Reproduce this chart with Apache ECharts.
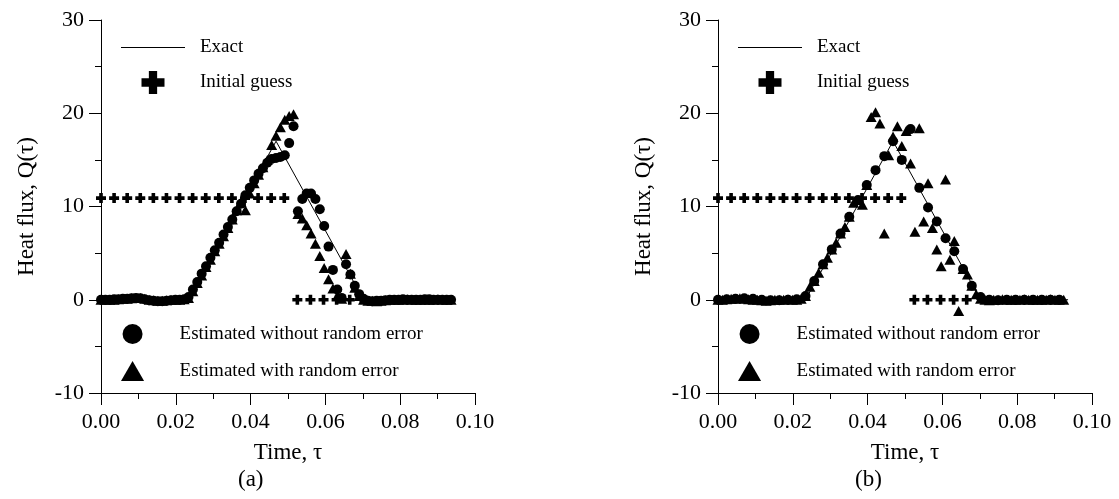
<!DOCTYPE html>
<html>
<head>
<meta charset="utf-8">
<script src="https://cdn.jsdelivr.net/npm/echarts@6/dist/echarts.min.js"></script>
<style>
  html, body { margin: 0; padding: 0; background: #fff; }
  #main { width: 1119px; height: 499px; }
</style>
</head>
<body>
<div id="main"></div>
<script>
// sample times (every estimate is on this grid)
const tFine = [0, 0.00117, 0.00234, 0.00351, 0.00468, 0.00585, 0.00702, 0.00819, 0.00936, 0.01053,
  0.0117, 0.01287, 0.01404, 0.01521, 0.01638, 0.01755, 0.01872, 0.01989, 0.02106, 0.02223,
  0.0234, 0.02457, 0.02574, 0.02691, 0.02808, 0.02925, 0.03042, 0.03159, 0.03276, 0.03393,
  0.0351, 0.03627, 0.03744, 0.03861, 0.03978, 0.04095, 0.04212, 0.04329, 0.04446, 0.04563,
  0.0468, 0.04797, 0.04914, 0.05031, 0.05148, 0.05265, 0.05382, 0.05499, 0.05616, 0.05733,
  0.0585, 0.05967, 0.06084, 0.06201, 0.06318, 0.06435, 0.06552, 0.06669, 0.06786, 0.06903,
  0.0702, 0.07137, 0.07254, 0.07371, 0.07488, 0.07605, 0.07722, 0.07839, 0.07956, 0.08073,
  0.0819, 0.08307, 0.08424, 0.08541, 0.08658, 0.08775, 0.08892, 0.09009, 0.09126, 0.09243, 0.0936];
const tCoarse = [0, 0.00234, 0.00468, 0.00702, 0.00936, 0.0117, 0.01404, 0.01638, 0.01872, 0.02106,
  0.0234, 0.02574, 0.02808, 0.03042, 0.03276, 0.0351, 0.03744, 0.03978, 0.04212, 0.04446,
  0.0468, 0.04914, 0.05148, 0.05382, 0.05616, 0.0585, 0.06084, 0.06318, 0.06552, 0.06786,
  0.0702, 0.07254, 0.07488, 0.07722, 0.07956, 0.0819, 0.08424, 0.08658, 0.08892, 0.09126];

const exactTime = [0, 0.0234, 0.0468, 0.0702, 0.0936];
const exactQ = [0, 0, 17, 0, 0];

const guessTime = [0, 0.0035, 0.007, 0.0105, 0.014, 0.0175, 0.021, 0.0245, 0.028, 0.0315,
  0.035, 0.0385, 0.042, 0.0455, 0.049, 0.0525, 0.056, 0.0595, 0.063, 0.0665];
const guessQ = [10.9, 10.9, 10.9, 10.9, 10.9, 10.9, 10.9, 10.9, 10.9, 10.9,
  10.9, 10.9, 10.9, 10.9, 10.9, 0, 0, 0, 0, 0];

// panel (a)
const aNoError = [0, 0, 0, 0.05, 0.05, 0.1, 0.1, 0.15, 0.2, 0.15, 0.05, -0.05, -0.1, -0.15, -0.15, -0.1, -0.05, 0, 0, 0.05,
  0.3, 1.1, 1.9, 2.8, 3.6, 4.5, 5.3, 6.1, 7.0, 7.8, 8.6, 9.5, 10.3, 11.2, 12.0, 12.8, 13.5, 14.1, 14.7, 15.1,
  15.2, 15.3, 15.5, 16.8, 18.6, 9.5, 10.8, 11.4, 11.4, 10.8, 9.7, 7.9, 5.7, 3.2, 1.1, 0.2, 3.8, 2.7, 1.5, 0.6,
  0.1, -0.1, -0.15, -0.1, -0.1, -0.05, 0, 0, 0, 0.05, 0, 0, 0, 0, 0.05, 0.05, 0, 0, 0, 0, 0];
const aWithError = [0, 0, 0, 0, 0.05, 0.1, 0.1, 0.15, 0.2, 0.2, 0.1, 0, -0.05, -0.1, -0.1, -0.05, 0, 0, 0, 0.05,
  0.2, 0.9, 1.8, 2.6, 3.5, 4.3, 5.2, 6.0, 6.8, 7.7, 8.6, 9.6, 10.5, 9.6, 11.4, 12.5, 13.4, 14.2, 15.0, 16.6,
  17.6, 18.5, 19.3, 19.7, 19.9, 9.2, 8.7, 8.0, 7.1, 6.0, 4.7, 3.4, 2.2, 1.2, 0.4, 0.1, 4.9, 2.8, 1.3, 0.4,
  0, -0.1, -0.1, -0.15, -0.1, -0.05, 0, 0, 0, 0, 0.05, 0, 0, 0, 0, 0, 0, 0.05, 0, 0, 0];

// panel (b)
const bNoError = [0, 0.05, 0.1, 0.15, 0.1, 0, -0.05, -0.05, 0, 0.05,
  0.4, 2.0, 3.8, 5.4, 7.1, 8.9, 10.7, 12.3, 13.9, 15.4,
  17.0, 15.0, 18.3, 12.0, 9.9, 8.4, 6.6, 5.2, 3.3, 1.5,
  0.3, 0, -0.05, 0, 0, 0, 0, 0, 0, 0];
const bWithError = [0, 0, 0.05, 0.1, 0.1, 0.15, 0.1, 0.05, 0, 0, -0.05, -0.1, -0.05, 0, 0, 0, 0.05, 0, 0, 0.1,
  0.4, 1.4, 2.0, 2.9, 3.8, 4.5, 5.4, 6.1, 7.1, 7.8, 8.9, 10.4, 10.7, 10.2, 12.3, 19.6, 20.1, 18.9, 7.1, 15.5,
  17.5, 18.6, 16.5, 18.1, 14.6, 7.3, 18.4, 8.4, 12.5, 7.7, 5.4, 3.6, 12.9, 4.3, 6.3, -1.2, 3.3, 2.7, 1.5, 0.6,
  0.1, 0, -0.05, 0, 0, 0.05, 0, 0, 0, 0, 0.05, 0, 0, 0, 0, 0, 0.05, 0, 0, 0];

const serif = 'Liberation Serif';
const plusPath = 'path://M3.2,0H6.8V3.2H10V6.8H6.8V10H3.2V6.8H0V3.2H3.2Z';
const triPath = 'path://M5,0L10,8.66L0,8.66Z';
const linePath = 'path://M0,0H64V1H0Z';
const ink = {color: '#000', opacity: 1};

function pairs(t, q) {
  return q.map((v, i) => [t[i], v]);
}

function xAxisFor(i) {
  return {
    gridIndex: i, type: 'value', min: 0, max: 0.1, interval: 0.02,
    axisLine: {show: true, onZero: false, lineStyle: {color: '#000', width: 1}},
    axisTick: {show: true, length: 12, lineStyle: {color: '#000'}},
    minorTick: {show: true, splitNumber: 2, length: 6, lineStyle: {color: '#000'}},
    splitLine: {show: false},
    axisLabel: {formatter: v => v.toFixed(2), margin: 18, fontSize: 22, fontFamily: serif, color: '#000'},
    name: 'Time, τ', nameLocation: 'middle', nameGap: 48,
    nameTextStyle: {fontSize: 23, fontFamily: serif, color: '#000'}
  };
}

function yAxisFor(i) {
  return {
    gridIndex: i, type: 'value', min: -10, max: 30, interval: 10,
    axisLine: {show: true, onZero: false, lineStyle: {color: '#000', width: 1}},
    axisTick: {show: true, length: 12, lineStyle: {color: '#000'}},
    minorTick: {show: true, splitNumber: 2, length: 6, lineStyle: {color: '#000'}},
    splitLine: {show: false},
    axisLabel: {margin: 17, fontSize: 22, fontFamily: serif, color: '#000'},
    name: 'Heat flux, Q(τ)', nameLocation: 'middle', nameGap: 63,
    nameTextStyle: {fontSize: 23, fontFamily: serif, color: '#000'}
  };
}

function seriesFor(i, circles, circleTimes, triangles) {
  return [
    {
      name: 'Estimated with random error', type: 'scatter', xAxisIndex: i, yAxisIndex: i,
      symbol: triPath, symbolSize: [11, 10], itemStyle: ink,
      data: pairs(tFine, triangles), z: 2
    },
    {
      name: 'Initial guess', type: 'scatter', xAxisIndex: i, yAxisIndex: i,
      symbol: plusPath, symbolSize: 10, itemStyle: ink,
      data: pairs(guessTime, guessQ), z: 3
    },
    {
      name: 'Estimated without random error', type: 'scatter', xAxisIndex: i, yAxisIndex: i,
      symbol: 'circle', symbolSize: 10, itemStyle: ink,
      data: pairs(circleTimes, circles), z: 4
    },
    {
      name: 'Exact', type: 'line', xAxisIndex: i, yAxisIndex: i,
      symbol: 'none', showSymbol: false, lineStyle: {color: '#000', width: 1}, itemStyle: ink,
      data: pairs(exactTime, exactQ), z: 5
    }
  ];
}

const legendText = {fontFamily: serif, fontSize: 19, color: '#000', padding: [0, 0, 0, 10]};

function legendsFor(left) {
  return [
    {
      orient: 'vertical', left: left, top: 33, itemWidth: 64, itemHeight: 23, itemGap: 14,
      selectedMode: false, textStyle: legendText, itemStyle: {opacity: 1},
      data: [{name: 'Exact', icon: linePath}, {name: 'Initial guess', icon: plusPath}]
    },
    {
      orient: 'vertical', left: left, top: 319, itemWidth: 64, itemHeight: 20, itemGap: 17,
      selectedMode: false, textStyle: legendText, itemStyle: {opacity: 1},
      data: [{name: 'Estimated without random error', icon: 'circle'},
             {name: 'Estimated with random error', icon: triPath}]
    }
  ];
}

const chart = echarts.init(document.getElementById('main'));
chart.setOption({
  animation: false,
  backgroundColor: '#fff',
  grid: [
    {left: 101, top: 20, width: 374, height: 373},
    {left: 718, top: 20, width: 374, height: 373}
  ],
  xAxis: [xAxisFor(0), xAxisFor(1)],
  yAxis: [yAxisFor(0), yAxisFor(1)],
  legend: legendsFor(116).concat(legendsFor(733)),
  series: seriesFor(0, aNoError, tFine, aWithError).concat(seriesFor(1, bNoError, tCoarse, bWithError)),
  graphic: [
    {type: 'text', left: 252 - 14, top: 468, style: {text: '(a)', font: '23px "Liberation Serif"', fill: '#000'}},
    {type: 'text', left: 869 - 14, top: 468, style: {text: '(b)', font: '23px "Liberation Serif"', fill: '#000'}}
  ]
});
</script>
</body>
</html>
